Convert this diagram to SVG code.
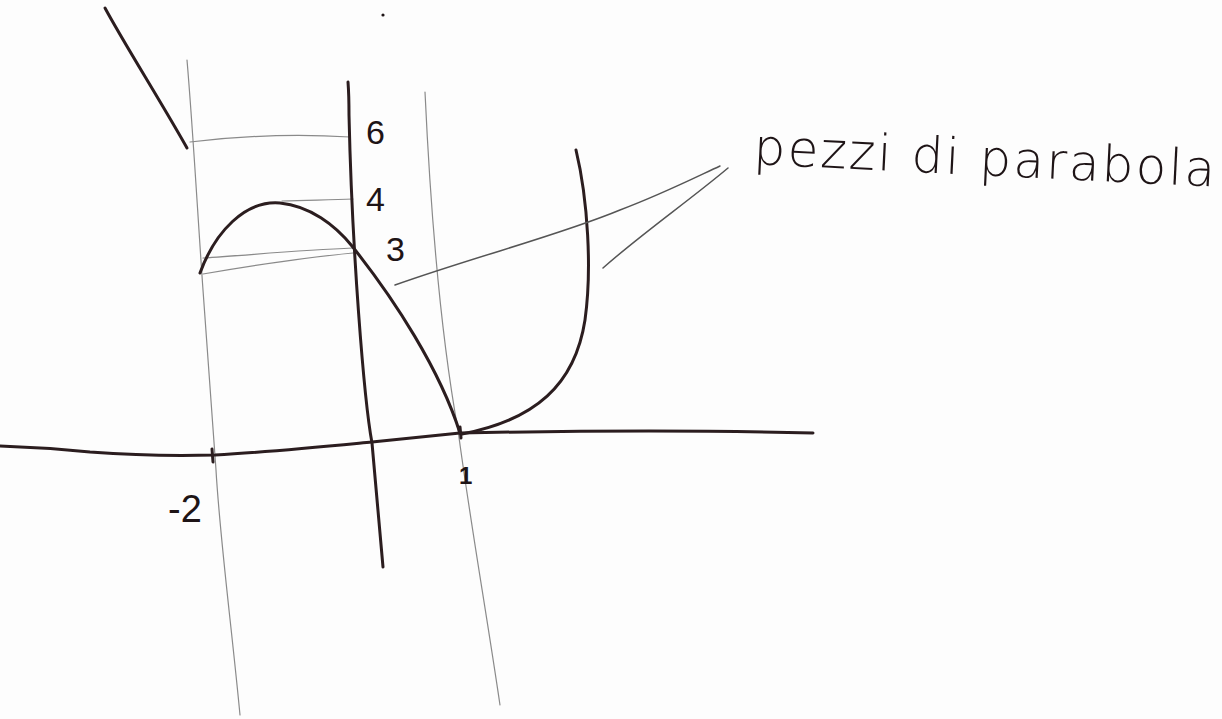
<svg xmlns="http://www.w3.org/2000/svg" width="1222" height="719" viewBox="0 0 1222 719">
<style>
.ink{fill:none;stroke:#2b1d1f;stroke-width:3;stroke-linecap:round;stroke-linejoin:round}
.pencil{fill:none;stroke:#8a8a8a;stroke-width:1.2;stroke-linecap:round}
.ptr{fill:none;stroke:#555;stroke-width:1.5;stroke-linecap:round}
.num{font-family:"Liberation Sans","DejaVu Sans",sans-serif;fill:#1e1416}
.hand{font-family:"DejaVu Sans","Lato",sans-serif;font-weight:200;fill:#1e1416}
</style>
<rect width="1222" height="719" fill="#fdfdfd"/>
<g id="guides">
<path class="pencil" d="M187,60 C193,130 198,220 203,290 C208,360 212,420 216,470 C220,540 232,630 240,715"/>
<path class="pencil" d="M425,92 C430,200 440,330 458,430 C470,520 486,610 500,705"/>
<path class="pencil" d="M190,142 C240,136 300,134 350,137"/>
<path class="pencil" d="M282,201 C310,200 330,200 353,199"/>
<path class="pencil" d="M203,258 C250,255 300,250 353,248"/>
<path class="pencil" d="M203,274 C250,266 300,258 353,253"/>
</g>
<g id="axes">
<path class="ink" d="M0,446 C30,447 60,449 90,452 C130,455 180,456 215,455 C270,452 330,446 372,442 C400,439 430,436 460,433 C560,431 700,430 813,433" stroke-width="2.6"/>
<path class="ink" d="M348,82 C349,95 349,105 349,115 C352,250 364,400 372,443 C376,490 380,530 383,567" stroke-width="2.6"/>
<path class="ink" d="M212,449 L213,462" stroke-width="7"/>
<path class="ink" d="M460,427 L461,438" stroke-width="8"/>
</g>
<g id="curves">
<path class="ink" d="M105,8 C125,45 160,100 187,148"/>
<path class="ink" d="M200,273 C215,232 245,200 280,203 C310,206 335,225 352,246 C395,300 440,370 460,433"/>
<path class="ink" d="M462,434 C535,420 575,385 585,320 C592,270 588,200 576,150" stroke-width="2.6"/>
</g>
<g id="labels">
<text class="num" x="366" y="144" font-size="34">6</text>
<text class="num" x="366" y="211" font-size="34" font-weight="300">4</text>
<text class="num" x="386" y="261" font-size="34" font-weight="300">3</text>
<text class="num" x="168" y="522" font-size="38">-2</text>
<text class="num" x="459" y="484" font-size="24" font-weight="bold">1</text>
<circle cx="383" cy="15" r="1.6" fill="#1e1416"/>
</g>
<g id="connectors">
<path class="ptr" d="M395,285 C480,255 560,235 620,210 C660,195 690,180 720,166"/>
<path class="ptr" d="M603,268 C640,235 690,200 728,168"/>
</g>
<g id="note">
<text class="hand" x="753" y="164" font-size="50" textLength="462" lengthAdjust="spacing" transform="rotate(2.8 753 164)">pezzi di parabola</text>
</g>
</svg>
